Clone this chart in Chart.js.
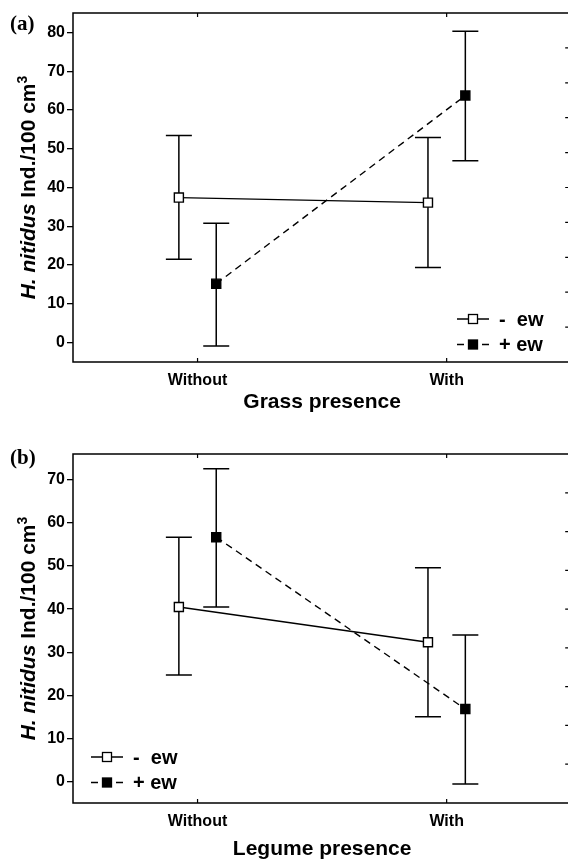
<!DOCTYPE html>
<html>
<head>
<meta charset="utf-8">
<script src="https://cdn.jsdelivr.net/npm/chart.js@4.4.1/dist/chart.umd.min.js"></script>
<style>
  html, body { margin: 0; padding: 0; background: #fff; overflow: hidden; }
  #page { position: relative; width: 568px; height: 861px; overflow: hidden; }
  .panel { position: absolute; left: 0; width: 579px; }
  #wrap-a { top: 0; height: 420px; }
  #wrap-b { top: 420px; height: 441px; }
</style>
</head>
<body>
<div id="page">
  <div class="panel" id="wrap-a"><canvas id="chart-a" width="579" height="420"></canvas></div>
  <div class="panel" id="wrap-b"><canvas id="chart-b" width="579" height="441"></canvas></div>
</div>
<script>
const categories = ["Without", "With"];
const seriesLabels = ["-  ew", "+ ew"];

// (a) grass presence
const grassMinusMean = [37.4, 36.1];
const grassMinusLow = [21.5, 19.4];
const grassMinusHigh = [53.4, 52.9];
const grassPlusMean = [15.2, 63.7];
const grassPlusLow = [-0.9, 46.9];
const grassPlusHigh = [30.8, 80.3];
const grassTicks = [0, 10, 20, 30, 40, 50, 60, 70, 80];

// (b) legume presence
const legumeMinusMean = [40.5, 32.3];
const legumeMinusLow = [24.7, 15.0];
const legumeMinusHigh = [56.7, 49.6];
const legumePlusMean = [56.7, 16.8];
const legumePlusLow = [40.5, -0.6];
const legumePlusHigh = [72.6, 34.0];
const legumeTicks = [0, 10, 20, 30, 40, 50, 60, 70];

const FONT = '"Liberation Sans", Arial, sans-serif';
const dodge = 0.075;

const decor = {
  id: "decor",
  beforeDatasetsDraw(chart) {
    const ctx = chart.ctx, y = chart.scales.y;
    ctx.save();
    ctx.strokeStyle = "#000";
    ctx.lineWidth = 1.5;
    chart.data.datasets.forEach((ds, i) => {
      chart.getDatasetMeta(i).data.forEach((pt, j) => {
        const yl = y.getPixelForValue(ds.low[j]);
        const yh = y.getPixelForValue(ds.high[j]);
        ctx.beginPath();
        ctx.moveTo(pt.x, yl); ctx.lineTo(pt.x, yh);
        ctx.moveTo(pt.x - 13, yl); ctx.lineTo(pt.x + 13, yl);
        ctx.moveTo(pt.x - 13, yh); ctx.lineTo(pt.x + 13, yh);
        ctx.stroke();
      });
    });
    ctx.restore();
  },
  afterDraw(chart, args, opts) {
    const ctx = chart.ctx, a = chart.chartArea;
    const x = chart.scales.x, y2 = chart.scales.y2;
    ctx.save();
    ctx.strokeStyle = "#000";
    ctx.lineWidth = 1.5;
    ctx.setLineDash([]);
    // frame box; its right side lies just past the visible page edge
    ctx.beginPath();
    ctx.rect(a.left, a.top, a.right - a.left, a.bottom - a.top);
    ctx.stroke();
    // inward ticks
    ctx.lineWidth = 1.2;
    ctx.beginPath();
    x.ticks.forEach(t => {
      const px = x.getPixelForValue(t.value);
      ctx.moveTo(px, a.bottom); ctx.lineTo(px, a.bottom - 4);
      ctx.moveTo(px, a.top); ctx.lineTo(px, a.top + 4);
    });
    y2.ticks.forEach(t => {
      if (t.value <= y2.min || t.value >= y2.max) return;
      const py = y2.getPixelForValue(t.value);
      ctx.moveTo(a.right, py); ctx.lineTo(a.right - 6, py);
    });
    ctx.stroke();

    // legend
    chart.data.datasets.forEach((ds, i) => {
      const lx = opts.legendX, ly = opts.legendY + i * 25.5, mx = lx + 16;
      ctx.lineWidth = 1.3;
      ctx.setLineDash(ds.borderDash || []);
      ctx.beginPath();
      ctx.moveTo(lx, ly); ctx.lineTo(mx, ly);
      ctx.moveTo(lx + 32, ly); ctx.lineTo(mx, ly);
      ctx.stroke();
      ctx.setLineDash([]);
      ctx.fillStyle = ds.pointBackgroundColor;
      ctx.fillRect(mx - 4.5, ly - 4.5, 9, 9);
      ctx.strokeRect(mx - 4.5, ly - 4.5, 9, 9);
      ctx.fillStyle = "#000";
      ctx.font = "bold 20px " + FONT;
      ctx.textAlign = "left";
      ctx.textBaseline = "middle";
      ctx.fillText(ds.label, lx + 42, ly + 1);
    });

    // y title with italic species name and superscript
    const parts = [
      { t: "H. nitidus", f: "italic bold 21px " + FONT, dy: 0 },
      { t: " Ind./100 cm", f: "bold 21px " + FONT, dy: 0 },
      { t: "3", f: "bold 14px " + FONT, dy: -8 }
    ];
    let total = 0;
    parts.forEach(p => { ctx.font = p.f; p.w = ctx.measureText(p.t).width; total += p.w; });
    ctx.translate(35, (a.top + a.bottom) / 2);
    ctx.rotate(-Math.PI / 2);
    ctx.textBaseline = "alphabetic";
    let cx = -total / 2;
    parts.forEach(p => { ctx.font = p.f; ctx.fillText(p.t, cx, p.dy); cx += p.w; });
    ctx.restore();

    // panel letter
    ctx.save();
    ctx.fillStyle = "#000";
    ctx.font = 'bold 21px "Liberation Serif", "Times New Roman", serif';
    ctx.textAlign = "left";
    ctx.textBaseline = "middle";
    ctx.fillText(opts.letter, 10, opts.letterY);
    ctx.restore();
  }
};

function makePanel(id, cfg) {
  return new Chart(document.getElementById(id), {
    type: "line",
    data: {
      datasets: [
        {
          label: seriesLabels[0],
          data: cfg.minusMean.map((v, i) => ({ x: i + 1 - dodge, y: v })),
          low: cfg.minusLow, high: cfg.minusHigh,
          borderColor: "#000", borderWidth: 1.4,
          pointStyle: "rect", pointRadius: 6.4, pointBorderWidth: 1.4,
          pointBackgroundColor: "#fff", pointBorderColor: "#000"
        },
        {
          label: seriesLabels[1],
          data: cfg.plusMean.map((v, i) => ({ x: i + 1 + dodge, y: v })),
          low: cfg.plusLow, high: cfg.plusHigh,
          borderColor: "#000", borderWidth: 1.4, borderDash: [7, 5],
          pointStyle: "rect", pointRadius: 6.4, pointBorderWidth: 1.4,
          pointBackgroundColor: "#000", pointBorderColor: "#000"
        }
      ]
    },
    options: {
      responsive: false,
      animation: false,
      events: [],
      layout: { padding: { top: cfg.top, right: 0, left: 0, bottom: 0 } },
      plugins: {
        legend: { display: false },
        tooltip: { enabled: false },
        decor: { legendX: cfg.legendX, legendY: cfg.legendY, letter: cfg.letter, letterY: cfg.letterY }
      },
      scales: {
        x: {
          type: "linear", min: 0.5, max: 2.5,
          afterBuildTicks: s => { s.ticks = categories.map((c, i) => ({ value: i + 1 })); },
          afterFit: s => { s.height = 58; },
          grid: { display: false, drawTicks: false },
          border: { display: false },
          ticks: { color: "#000", font: { family: FONT, size: 16, weight: "bold" }, padding: 9, maxRotation: 0,
                   callback: v => categories[v - 1] },
          title: { display: true, text: cfg.xTitle, color: "#000",
                   font: { family: FONT, size: 21, weight: "bold", lineHeight: 1 },
                   padding: { top: 0, bottom: cfg.titlePad } }
        },
        y: {
          min: -5, max: cfg.yMax,
          afterBuildTicks: s => { s.ticks = cfg.ticks.map(v => ({ value: v })); },
          afterFit: s => { s.width = 73; },
          grid: { drawOnChartArea: false, tickLength: 6, color: "#000", lineWidth: 1.3 },
          border: { display: false },
          ticks: { color: "#000", font: { family: FONT, size: 16, weight: "bold" }, padding: 2 }
        },
        y2: {
          position: "right", min: 0, max: cfg.y2Max,
          afterFit: s => { s.width = 0; },
          ticks: { display: false, stepSize: 1 },
          grid: { display: false },
          border: { display: false }
        }
      }
    },
    plugins: [decor]
  });
}

makePanel("chart-a", {
  minusMean: grassMinusMean, minusLow: grassMinusLow, minusHigh: grassMinusHigh,
  plusMean: grassPlusMean, plusLow: grassPlusLow, plusHigh: grassPlusHigh,
  ticks: grassTicks, yMax: 85, y2Max: 10, top: 13, titlePad: 7,
  xTitle: "Grass presence", legendX: 457, legendY: 319, letter: "(a)", letterY: 25
});

makePanel("chart-b", {
  minusMean: legumeMinusMean, minusLow: legumeMinusLow, minusHigh: legumeMinusHigh,
  plusMean: legumePlusMean, plusLow: legumePlusLow, plusHigh: legumePlusHigh,
  ticks: legumeTicks, yMax: 76, y2Max: 9, top: 34, titlePad: 1,
  xTitle: "Legume presence", legendX: 91, legendY: 337, letter: "(b)", letterY: 39
});
</script>
</body>
</html>
